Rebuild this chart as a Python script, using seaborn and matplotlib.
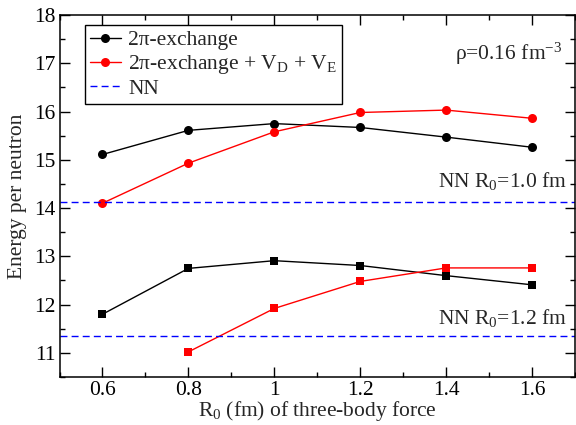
import matplotlib
matplotlib.use("Agg")
import matplotlib.pyplot as plt
import seaborn as sns
import pandas as pd
from matplotlib.ticker import MultipleLocator
from matplotlib.lines import Line2D

# ---- data ----
r0 = [0.6, 0.8, 1.0, 1.2, 1.4, 1.6]
two_pi_nn10 = [15.11, 15.61, 15.75, 15.67, 15.47, 15.26]
two_pi_vdve_nn10 = [14.10, 14.93, 15.58, 15.98, 16.03, 15.86]
two_pi_nn12 = [11.80, 12.75, 12.91, 12.81, 12.60, 12.41]
r0_vdve12 = [0.8, 1.0, 1.2, 1.4, 1.6]
two_pi_vdve_nn12 = [11.02, 11.92, 12.48, 12.76, 12.76]
nn_10 = 14.13
nn_12 = 11.34

sns.set_theme(style="ticks")
plt.rcParams['font.family'] = ['Liberation Serif', 'DejaVu Serif']
plt.rcParams['mathtext.fontset'] = 'custom'
plt.rcParams['mathtext.rm'] = 'Liberation Serif'
plt.rcParams['mathtext.it'] = 'Liberation Serif:italic'

FS = 15.5

fig = plt.figure(figsize=(5.76, 4.25), dpi=100)
ax = fig.add_axes([59.5/576, 1 - 377/425, (575 - 59.5)/576, (377 - 15)/425])

df1 = pd.DataFrame({"x": r0, "y": two_pi_nn10})
df2 = pd.DataFrame({"x": r0, "y": two_pi_vdve_nn10})
df3 = pd.DataFrame({"x": r0, "y": two_pi_nn12})
df4 = pd.DataFrame({"x": r0_vdve12, "y": two_pi_vdve_nn12})

lw = 1.0
ms = 6.5
sns.lineplot(data=df1, x="x", y="y", ax=ax, color="black", marker="o", markersize=ms,
             markeredgewidth=0, linewidth=lw)
sns.lineplot(data=df2, x="x", y="y", ax=ax, color="red", marker="o", markersize=ms,
             markeredgewidth=0, linewidth=lw)
sns.lineplot(data=df3, x="x", y="y", ax=ax, color="black", marker="s", markersize=ms - 0.5,
             markeredgewidth=0, linewidth=lw)
sns.lineplot(data=df4, x="x", y="y", ax=ax, color="red", marker="s", markersize=ms - 0.5,
             markeredgewidth=0, linewidth=lw)
ax.axhline(nn_10, color="blue", linestyle=(0, (5, 3)), linewidth=1.0)
ax.axhline(nn_12, color="blue", linestyle=(0, (5, 3)), linewidth=1.0)

ax.set_xlim(0.5, 1.7)
ax.set_ylim(10.5, 18)
ax.xaxis.set_major_locator(MultipleLocator(0.2))
ax.xaxis.set_minor_locator(MultipleLocator(0.1))
ax.yaxis.set_major_locator(MultipleLocator(1))
ax.yaxis.set_minor_locator(MultipleLocator(0.5))
ax.set_xticks([0.6, 0.8, 1.0, 1.2, 1.4, 1.6])
ax.set_xticklabels(["0.6", "0.8", "1", "1.2", "1.4", "1.6"])
ax.set_yticks([11, 12, 13, 14, 15, 16, 17, 18])
ax.tick_params(which="both", direction="in", top=True, right=True, labelsize=FS,
               width=1.0, color="black", labelcolor="black")
ax.tick_params(which="major", length=7.2, pad=3)
ax.tick_params(which="minor", length=3.6)
for s in ax.spines.values():
    s.set_linewidth(1.1)
    s.set_color("black")

ax.set_xlabel("R$_0$ (fm) of three-body force", fontsize=FS, labelpad=-1)
ax.set_ylabel("Energy per neutron", fontsize=FS, labelpad=5)

handles = [
    Line2D([], [], color="black", marker="o", markersize=ms, markeredgewidth=0, linewidth=lw),
    Line2D([], [], color="red", marker="o", markersize=ms, markeredgewidth=0, linewidth=lw),
    Line2D([], [], color="blue", linestyle=(0, (5, 3)), linewidth=1.0),
]
labels = ["2π-exchange", "2π-exchange + V$_\\mathrm{D}$ + V$_\\mathrm{E}$", "NN"]
leg = ax.legend(handles, labels, loc="upper left", bbox_to_anchor=(25.5/515.5, 1 - 10/362),
                fontsize=FS, frameon=True, fancybox=False, edgecolor="black",
                framealpha=1, handlelength=1.4, handletextpad=0.35, borderpad=0.25,
                labelspacing=0.12, borderaxespad=0)
leg.get_frame().set_linewidth(1.0)

ax.text(0.975, 0.893, "ρ=0.16 fm$^{-3}$", transform=ax.transAxes, ha="right",
        va="center", fontsize=FS)
ax.text(1.6 + 0.08, 14.56, "NN R$_0$=1.0 fm", ha="right", va="center", fontsize=FS)
ax.text(1.6 + 0.08, 11.72, "NN R$_0$=1.2 fm", ha="right", va="center", fontsize=FS)

fig.savefig("out.png", dpi=100)
